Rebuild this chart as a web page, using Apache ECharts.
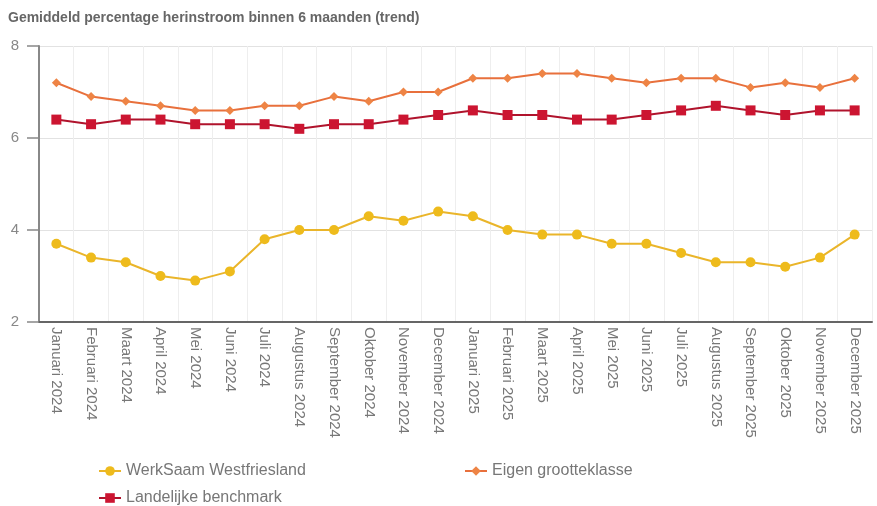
<!DOCTYPE html>
<html>
<head>
<meta charset="utf-8">
<script src="https://cdn.jsdelivr.net/npm/echarts@6/dist/echarts.min.js"></script>
<style>
	html, body { margin: 0; padding: 0; background: #fff; }
	#chart { width: 877px; height: 506px; }
</style>
</head>
<body>
<div id="chart"></div>
<script>
	// maanden
	var categories = [
		'Januari 2024', 'Februari 2024', 'Maart 2024', 'April 2024', 'Mei 2024', 'Juni 2024',
		'Juli 2024', 'Augustus 2024', 'September 2024', 'Oktober 2024', 'November 2024', 'December 2024',
		'Januari 2025', 'Februari 2025', 'Maart 2025', 'April 2025', 'Mei 2025', 'Juni 2025',
		'Juli 2025', 'Augustus 2025', 'September 2025', 'Oktober 2025', 'November 2025', 'December 2025'
	];
	var werksaam = [3.7, 3.4, 3.3, 3.0, 2.9, 3.1, 3.8, 4.0, 4.0, 4.3, 4.2, 4.4,
		4.3, 4.0, 3.9, 3.9, 3.7, 3.7, 3.5, 3.3, 3.3, 3.2, 3.4, 3.9];
	var eigenKlasse = [7.2, 6.9, 6.8, 6.7, 6.6, 6.6, 6.7, 6.7, 6.9, 6.8, 7.0, 7.0,
		7.3, 7.3, 7.4, 7.4, 7.3, 7.2, 7.3, 7.3, 7.1, 7.2, 7.1, 7.3];
	var landelijk = [6.4, 6.3, 6.4, 6.4, 6.3, 6.3, 6.3, 6.2, 6.3, 6.3, 6.4, 6.5,
		6.6, 6.5, 6.5, 6.4, 6.4, 6.5, 6.6, 6.7, 6.6, 6.5, 6.6, 6.6];
	var yTicks = [2, 4, 6, 8];

	var font = 'Liberation Sans, Arial, sans-serif';
	var chart = echarts.init(document.getElementById('chart'));

	// één legenda per reeks, zo staan ze zoals in het origineel
	function legendItem(name, left, top) {
		return {
			data: [name],
			left: left,
			top: top,
			itemWidth: 22,
			itemHeight: 12,
			itemGap: 6,
			textStyle: { fontFamily: font, fontSize: 16, color: '#777' }
		};
	}

	var option = {
		animation: false,
		title: {
			text: 'Gemiddeld percentage herinstroom binnen 6 maanden (trend)',
			left: 3,
			top: 6,
			textStyle: { fontFamily: font, fontSize: 14, fontWeight: 'bold', color: '#666' }
		},
		legend: [
			legendItem('WerkSaam Westfriesland', 93, 458),
			legendItem('Landelijke benchmark', 93, 485),
			legendItem('Eigen grootteklasse', 459, 458)
		],
		grid: { left: 39, right: 5, top: 46, bottom: 184 },
		xAxis: {
			type: 'category',
			data: categories,
			boundaryGap: true,
			axisLine: { lineStyle: { color: '#666', width: 2 } },
			axisTick: { show: false },
			axisLabel: {
				rotate: -90,
				interval: 0,
				margin: 5,
				fontFamily: font,
				fontSize: 15,
				color: '#777'
			},
			splitLine: { show: true, lineStyle: { color: '#eeeeee', width: 1 } }
		},
		yAxis: {
			type: 'value',
			min: yTicks[0],
			max: yTicks[yTicks.length - 1],
			interval: 2,
			axisLine: { show: true, lineStyle: { color: '#888', width: 2 } },
			axisTick: { show: true, length: 12, lineStyle: { color: '#888', width: 1.5 } },
			axisLabel: { fontFamily: font, fontSize: 15, color: '#888', margin: 20 },
			splitLine: { show: true, lineStyle: { color: '#e2e2e2', width: 1 } }
		},
		series: [
			{
				name: 'WerkSaam Westfriesland',
				type: 'line',
				data: werksaam,
				symbol: 'circle',
				symbolSize: 10,
				z: 3,
				lineStyle: { color: '#eab52a', width: 2 },
				itemStyle: { color: '#eebb1c', borderWidth: 0 }
			},
			{
				name: 'Eigen grootteklasse',
				type: 'line',
				data: eigenKlasse,
				symbol: 'diamond',
				symbolSize: 9,
				z: 3,
				lineStyle: { color: '#e8703c', width: 2 },
				itemStyle: { color: '#ee8445', borderWidth: 0 }
			},
			{
				name: 'Landelijke benchmark',
				type: 'line',
				data: landelijk,
				symbol: 'rect',
				symbolSize: 10,
				z: 4,
				lineStyle: { color: '#b0132c', width: 2 },
				itemStyle: { color: '#cc1531', borderWidth: 0 }
			}
		]
	};

	chart.setOption(option);
</script>
</body>
</html>
